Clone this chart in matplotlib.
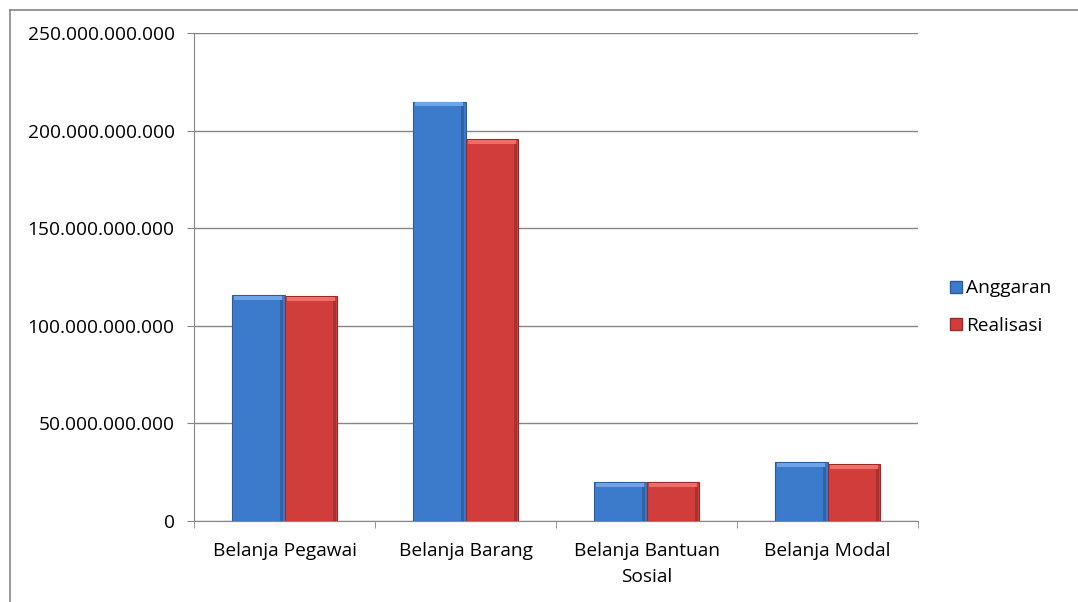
import numpy as np
import matplotlib.pyplot as plt
from matplotlib.ticker import FuncFormatter
from matplotlib.lines import Line2D

plt.rcParams['font.family'] = ['Open Sans', 'DejaVu Sans']

kategori = ['Belanja Pegawai', 'Belanja Barang', 'Belanja Bantuan\nSosial', 'Belanja Modal']
anggaran = [115.8e9, 214.9e9, 19.8e9, 30.1e9]
realisasi = [115.3e9, 195.5e9, 19.8e9, 29.0e9]

fig = plt.figure(figsize=(10.78, 6.02), dpi=100)
ax = fig.add_axes([0.18, 0.1346, 0.6716, 0.8104])

x = np.arange(len(kategori))
w = 0.29
biru = '#3c7bcc'
merah = '#d03d3a'
b1 = ax.bar(x - w / 2, anggaran, w, color=biru, edgecolor='#2b5c9c', linewidth=0.8, zorder=3)
b2 = ax.bar(x + w / 2, realisasi, w, color=merah, edgecolor='#9a2b28', linewidth=0.8, zorder=3)

# efek bevel: tepi atas terang, tepi kanan gelap
for bars, terang, gelap in ((b1, '#6ea3e8', '#2f63a8'), (b2, '#ee6d68', '#a83230')):
    for b in bars:
        h = b.get_height()
        bw = b.get_width()
        ax.bar(b.get_x() + bw / 2, 2.0e9, bw * 0.92,
               bottom=h - 2.4e9, color=terang, linewidth=0, zorder=4)
        ax.bar(b.get_x() + bw - bw * 0.05, h - 2.4e9, bw * 0.06,
               color=gelap, linewidth=0, zorder=4)

ax.set_xlim(-0.5, len(kategori) - 0.5)
ax.set_ylim(0, 250e9)
ax.set_yticks(np.arange(0, 250e9 + 1, 50e9))
ax.yaxis.set_major_formatter(FuncFormatter(lambda v, p: f'{int(v):,}'.replace(',', '.')))
ax.set_xticks(x)
ax.set_xticklabels(kategori, fontsize=13.8, linespacing=1.55)
ax.set_xticks(np.arange(-0.5, len(kategori)), minor=True)
ax.tick_params(axis='x', which='major', length=0, pad=15)
ax.tick_params(axis='x', which='minor', length=5, color='#868686', direction='out')
ax.tick_params(axis='y', length=5, color='#868686', labelsize=13.8, pad=9)
ax.grid(axis='y', color='#868686', linewidth=1, zorder=0)
for s in ['top', 'right']:
    ax.spines[s].set_visible(False)
ax.spines['left'].set_color('#868686')
ax.spines['bottom'].set_color('#868686')

handles = [Line2D([], [], marker='s', linestyle='', markersize=8, markerfacecolor=biru, markeredgecolor='#2b5c9c'),
           Line2D([], [], marker='s', linestyle='', markersize=8, markerfacecolor=merah, markeredgecolor='#9a2b28')]
fig.legend(handles, ['Anggaran', 'Realisasi'], loc='center left', bbox_to_anchor=(0.86, 0.49),
           frameon=False, fontsize=13.8, handletextpad=-0.08, labelspacing=1.0, handlelength=1.2)

fig.add_artist(Line2D([9.5 / 1078, 9.5 / 1078], [0, 1 - 9.5 / 602], color='#868686', lw=1.2))
fig.add_artist(Line2D([9.5 / 1078, 1], [1 - 9.5 / 602, 1 - 9.5 / 602], color='#868686', lw=1.2))

fig.savefig('out.png', dpi=100)
